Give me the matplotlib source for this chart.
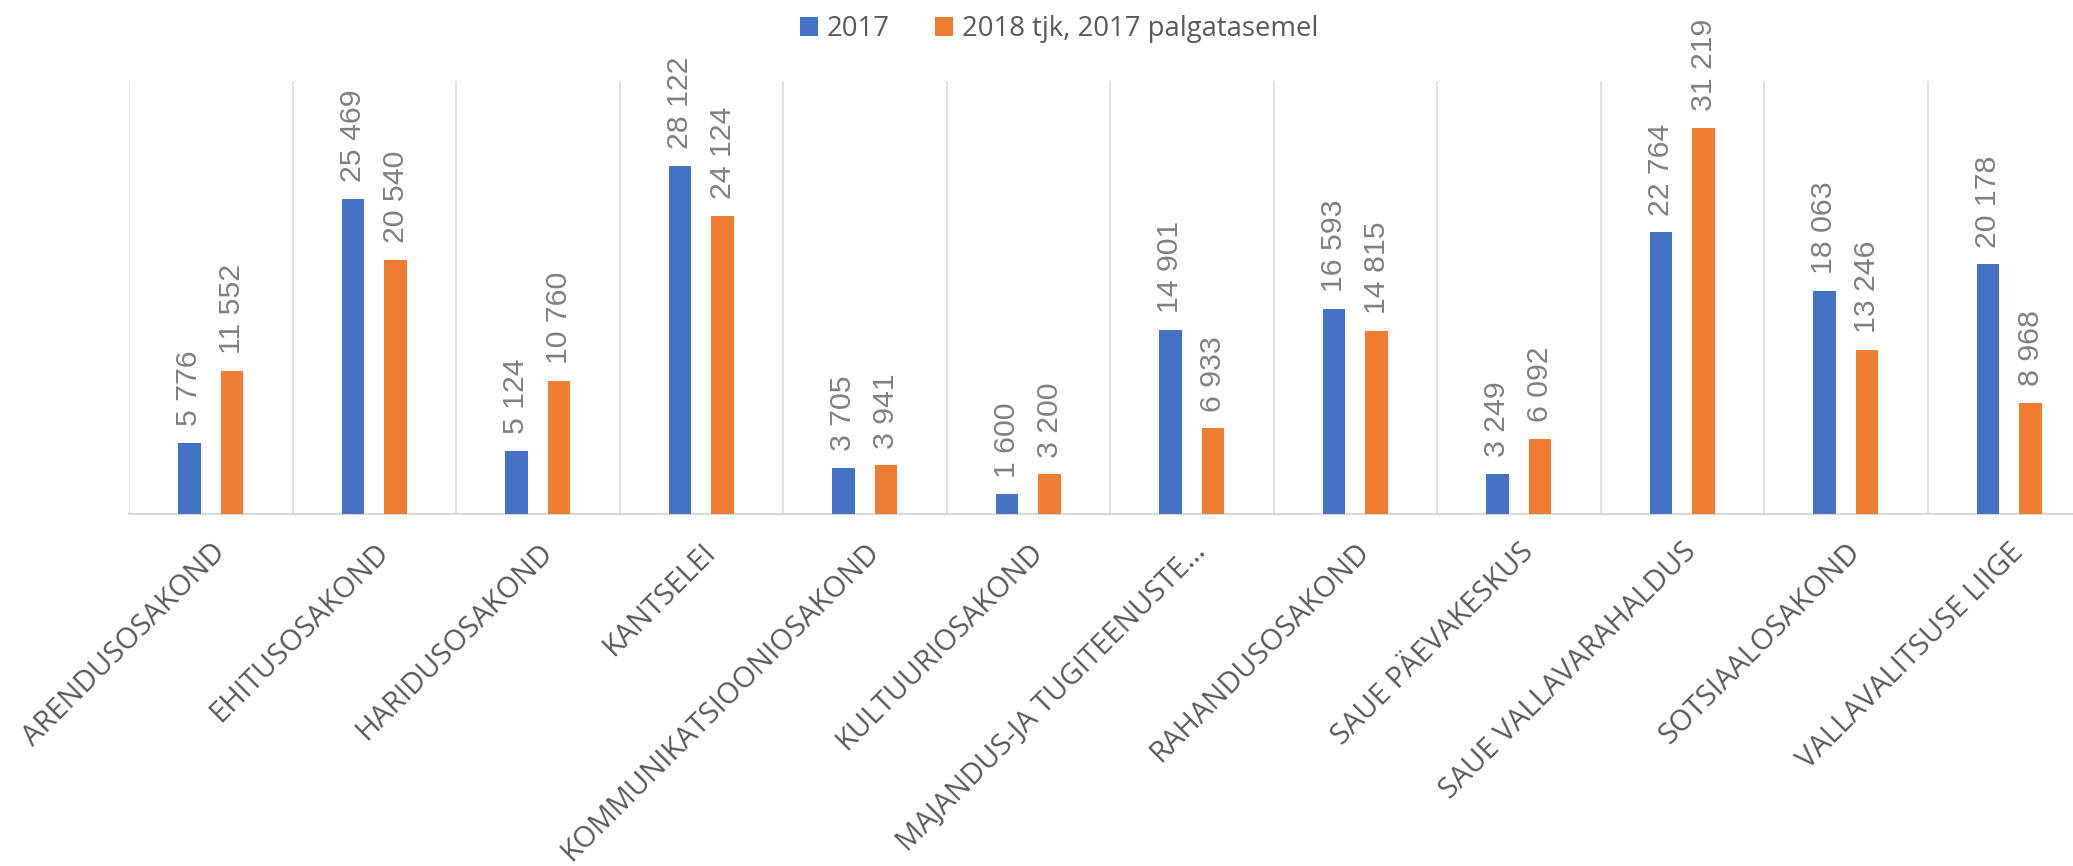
import numpy as np
import matplotlib
matplotlib.use("Agg")
import matplotlib.pyplot as plt

# andmed
osakonnad = ["ARENDUSOSAKOND", "EHITUSOSAKOND", "HARIDUSOSAKOND", "KANTSELEI",
             "KOMMUNIKATSIOONIOSAKOND", "KULTUURIOSAKOND", "MAJANDUS-JA TUGITEENUSTE…",
             "RAHANDUSOSAKOND", "SAUE PÄEVAKESKUS", "SAUE VALLAVARAHALDUS",
             "SOTSIAALOSAKOND", "VALLAVALITSUSE LIIGE"]
v2017 = [5776, 25469, 5124, 28122, 3705, 1600, 14901, 16593, 3249, 22764, 18063, 20178]
v2018 = [11552, 20540, 10760, 24124, 3941, 3200, 6933, 14815, 6092, 31219, 13246, 8968]
seeria = ["2017", "2018 tjk, 2017 palgatasemel"]

BLUE = "#4472c4"
ORANGE = "#ed7d31"
GRID = "#d9d9d9"

W, H = 2073, 866
fig = plt.figure(figsize=(W / 100, H / 100), dpi=100)
ax = fig.add_axes([129 / W, 352 / H, 1962 / W, 433 / H])

x = np.arange(len(osakonnad))
bw = 0.135
off = 0.13
b1 = ax.bar(x - off, v2017, bw, color=BLUE, label=seeria[0], zorder=3)
b2 = ax.bar(x + off, v2018, bw, color=ORANGE, label=seeria[1], zorder=3)

lab_font = dict(family=["Liberation Sans Narrow", "Liberation Sans"], size=21.8, color="#808080")
for bars in (b1, b2):
    for r in bars:
        v = r.get_height()
        ax.annotate(f"{int(v):,}".replace(",", " "),
                    (r.get_x() + r.get_width() / 2, v),
                    xytext=(0, 12), textcoords="offset points",
                    rotation=90, ha="center", va="bottom", **lab_font)

ax.set_xlim(-0.5, len(osakonnad) - 0.5)
ax.set_ylim(0, 35000)
ax.set_yticks([])
ax.set_xticks(x)
ax.set_xticklabels(osakonnad, rotation=45, ha="right", va="top",
                   rotation_mode="anchor", family="Open Sans",
                   fontsize=21, color="#595959")
ax.set_xticks(np.arange(len(osakonnad) + 1) - 0.5, minor=True)
ax.tick_params(axis="x", which="both", length=0, pad=17)
ax.grid(which="minor", axis="x", color=GRID, lw=1.1, zorder=0)
ax.grid(which="major", visible=False)
for s in ["top", "right", "left"]:
    ax.spines[s].set_visible(False)
ax.spines["bottom"].set_color(GRID)
ax.spines["bottom"].set_linewidth(1.5)

fig.legend(loc="upper center", bbox_to_anchor=(0.511, 1.011), ncol=2, frameon=False,
           prop=dict(family="Open Sans", size=19.8), labelcolor="#595959",
           handlelength=0.655, handleheight=0.655, handletextpad=0.33,
           columnspacing=1.64)

fig.savefig("out.png", dpi=100)
